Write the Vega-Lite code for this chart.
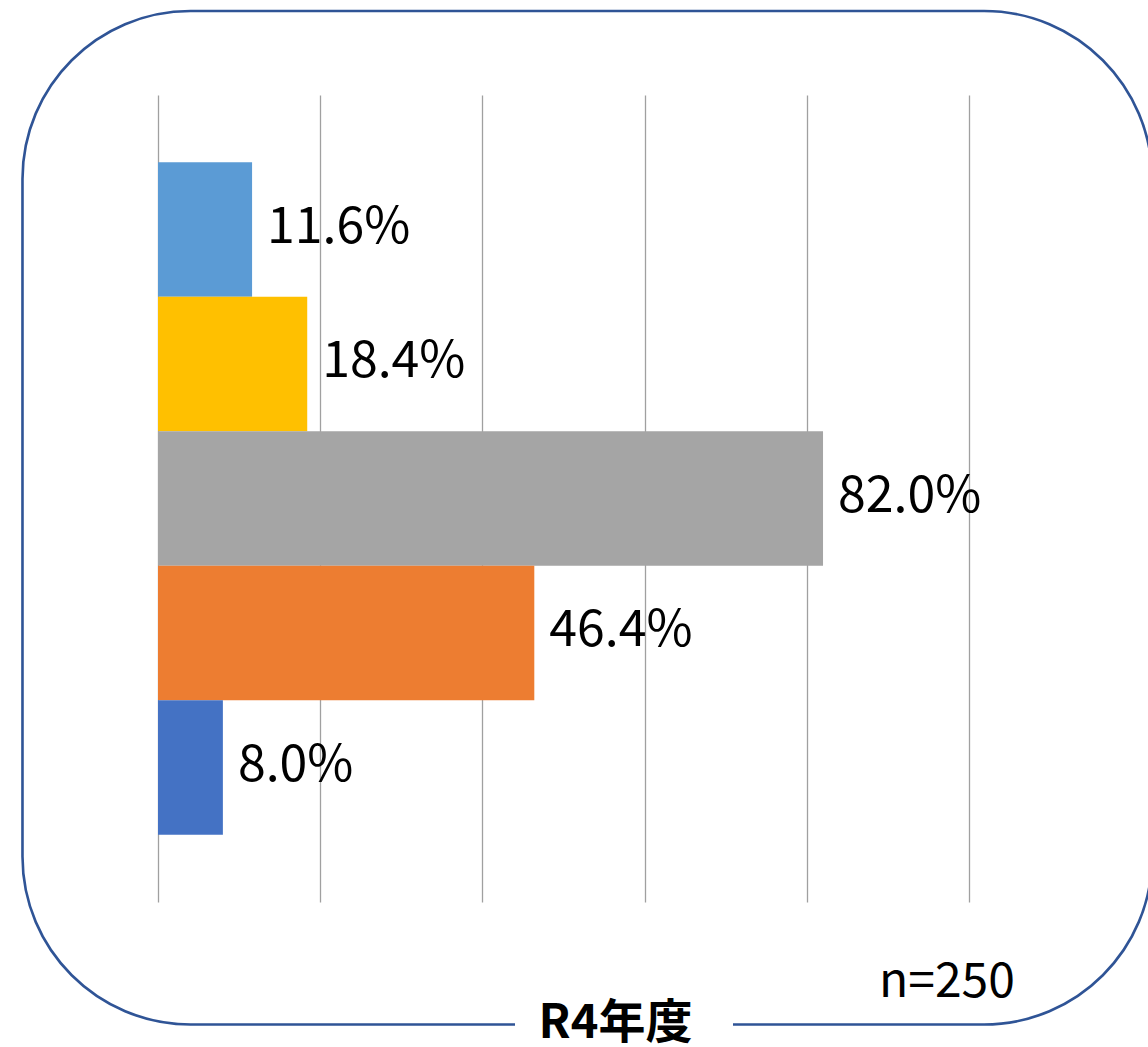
{
  "$schema": "https://vega.github.io/schema/vega-lite/v6.json",
  "width": 811,
  "height": 807,
  "autosize": "none",
  "padding": {"left": 158, "top": 95, "right": 179, "bottom": 145},
  "background": "white",
  "config": {
    "view": {"stroke": null},
    "font": "Noto Sans CJK JP",
    "axisX": {"grid": true, "gridColor": "#A0A0A0", "gridWidth": 1.3, "labels": false, "ticks": false, "domain": false, "tickCount": 5}
  },
  "layer": [
    {
      "data": {"values": [{}]},
      "layer": [
        {
          "mark": {"type": "rect", "fill": null, "stroke": "#2F5496", "strokeWidth": 2.6, "cornerRadius": 168},
          "encoding": {
            "x": {"datum": -0.1671, "type": "quantitative", "title": null, "scale": {"domain": [0, 1], "nice": false}},
            "x2": {"datum": 1.2257},
            "y": {"datum": 110.41, "type": "quantitative", "axis": null, "scale": {"domain": [0, 100], "nice": false}},
            "y2": {"datum": -15.18}
          }
        },
        {
          "mark": {"type": "rect", "fill": "white", "stroke": null},
          "encoding": {
            "x": {"datum": 0.4402, "type": "quantitative", "title": null},
            "x2": {"datum": 0.709},
            "y": {"datum": -13.88, "type": "quantitative", "axis": null},
            "y2": {"datum": -16.48}
          }
        },
        {
          "mark": {"type": "text", "text": "R4年度", "fontSize": 47, "fontWeight": "bold", "align": "center", "baseline": "alphabetic", "color": "black"},
          "encoding": {
            "x": {"datum": 0.5641, "type": "quantitative", "title": null},
            "y": {"datum": -16.9, "type": "quantitative", "axis": null}
          }
        },
        {
          "mark": {"type": "text", "text": "n=250", "fontSize": 48, "align": "left", "baseline": "alphabetic", "color": "black"},
          "encoding": {
            "x": {"datum": 0.889, "type": "quantitative", "title": null},
            "y": {"datum": -11.77, "type": "quantitative", "axis": null}
          }
        }
      ]
    },
    {
      "data": {
        "values": [
          {"項目": "項目1", "割合": 0.116},
          {"項目": "項目2", "割合": 0.184},
          {"項目": "項目3", "割合": 0.82},
          {"項目": "項目4", "割合": 0.464},
          {"項目": "項目5", "割合": 0.08}
        ]
      },
      "encoding": {
        "y": {"field": "項目", "type": "nominal", "sort": null, "axis": null, "scale": {"paddingInner": 0, "paddingOuter": 0.5}},
        "x": {"field": "割合", "type": "quantitative", "title": null}
      },
      "layer": [
        {
          "mark": {"type": "bar"},
          "encoding": {
            "color": {
              "field": "項目", "type": "nominal", "legend": null,
              "scale": {"domain": ["項目1", "項目2", "項目3", "項目4", "項目5"], "range": ["#5B9BD5", "#FFC000", "#A5A5A5", "#ED7D31", "#4472C4"]}
            }
          }
        },
        {
          "mark": {"type": "text", "align": "left", "baseline": "middle", "dx": 15, "dy": -2, "fontSize": 50, "color": "black"},
          "encoding": {
            "text": {"field": "割合", "type": "quantitative", "format": ".1%"}
          }
        }
      ]
    }
  ],
  "resolve": {"scale": {"y": "independent"}}
}
